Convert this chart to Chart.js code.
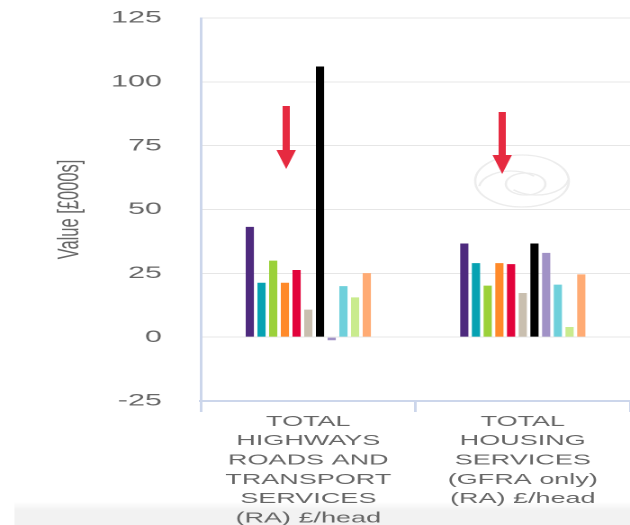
<!DOCTYPE html>
<html>
<head>
<meta charset="utf-8">
<script src="https://cdn.jsdelivr.net/npm/chart.js@4/dist/chart.umd.min.js"></script>
<style>
  html, body { margin: 0; padding: 0; background: #fff; overflow: hidden; width: 630px; height: 525px; }
  /* the chart is laid out narrow and widened horizontally */
  #wrap { width: 350px; height: 525px; transform: scaleX(1.8); transform-origin: 0 0; }
  canvas { display: block; }
</style>
</head>
<body>
<div id="wrap"><canvas id="c" width="350" height="525"></canvas></div>
<script>
// Categories (multi-line axis labels)
const categories = [
  ['TOTAL', 'HIGHWAYS', 'ROADS AND', 'TRANSPORT', 'SERVICES', '(RA) £/head'],
  ['TOTAL', 'HOUSING', 'SERVICES', '(GFRA only)', '(RA) £/head']
];

// One entry per authority series
const seriesNames = [
  'Series 1', 'Series 2', 'Series 3', 'Series 4', 'Series 5', 'Series 6',
  'Series 7', 'Series 8', 'Series 9', 'Series 10', 'Series 11'
];

// Values in £000s, per category
const highwaysValues = [43.2, 21.3, 30.0, 21.3, 26.3, 10.8, 106.0, -1.2, 20.0, 15.6, 25.1];
const housingValues  = [36.7, 29.0, 20.2, 29.0, 28.6, 17.3, 36.7, 33.0, 20.6, 4.0, 24.6];

// Y axis tick range
const yMin = -25;
const yMax = 125;
const yStep = 25;

const seriesColors = [
  '#4e2a7e', '#06a2b2', '#9bd13a', '#ff8a2a', '#e2033b', '#c9bfaf',
  '#000000', '#a192c6', '#6fd0db', '#c9eb8e', '#ffab74'
];

const FONT = "'Liberation Sans', Arial, Helvetica, sans-serif";

// Background strip along the bottom edge and the faint logo mark
const backdrop = {
  id: 'backdrop',
  beforeDraw(chart) {
    const { ctx, width, height } = chart;
    ctx.save();
    const g = ctx.createLinearGradient(0, height - 23, 0, height - 15);
    g.addColorStop(0, 'rgba(242,242,242,0)');
    g.addColorStop(1, '#f2f2f2');
    ctx.fillStyle = g;
    ctx.fillRect(8, height - 23, width - 8, 23);
    ctx.restore();
  },
  beforeDatasetsDraw(chart) {
    const { ctx } = chart;
    const cx = 290, cy = 181, r = 26;
    ctx.save();
    ctx.strokeStyle = '#ececec';
    ctx.lineWidth = 1.3;
    ctx.beginPath();
    ctx.arc(cx, cy, r, 0, Math.PI * 2);
    ctx.stroke();
    ctx.beginPath();
    ctx.arc(cx + 2, cy + 3, 11, 0, Math.PI * 2);
    ctx.stroke();
    ctx.beginPath();
    ctx.arc(cx - 6, cy + 8, 18, Math.PI * 1.05, Math.PI * 1.75);
    ctx.stroke();
    ctx.beginPath();
    ctx.arc(cx + 8, cy - 4, 18, Math.PI * 0.05, Math.PI * 0.75);
    ctx.stroke();
    ctx.restore();
  }
};

// Red pointer arrows above each category
const pointers = {
  id: 'pointers',
  afterDraw(chart, args, opts) {
    const { ctx } = chart;
    ctx.save();
    ctx.fillStyle = opts.color;
    for (const a of opts.items) {
      ctx.fillRect(a.x - 2, a.top, 4, a.headTop - a.top + 1);
      ctx.beginPath();
      ctx.moveTo(a.x - 5.4, a.headTop);
      ctx.lineTo(a.x + 5.4, a.headTop);
      ctx.lineTo(a.x, a.tip);
      ctx.closePath();
      ctx.fill();
    }
    ctx.restore();
  }
};

new Chart(document.getElementById('c'), {
  type: 'bar',
  data: {
    labels: categories,
    datasets: seriesNames.map((name, i) => ({
      label: name,
      data: [highwaysValues[i], housingValues[i]],
      backgroundColor: seriesColors[i],
      borderWidth: 0
    }))
  },
  options: {
    responsive: false,
    animation: false,
    devicePixelRatio: 2,
    layout: { padding: { top: 18, left: 0, right: 0, bottom: 0 } },
    datasets: { bar: { barPercentage: 0.7, categoryPercentage: 0.6 } },
    plugins: {
      legend: { display: false },
      tooltip: { enabled: false },
      pointers: {
        color: '#e62a40',
        items: [
          { x: 159, top: 106, headTop: 150, tip: 169 },
          { x: 279, top: 112, headTop: 155, tip: 174 }
        ]
      }
    },
    scales: {
      x: {
        grid: { drawOnChartArea: false, drawTicks: true, tickLength: 11, color: '#ccd6eb', lineWidth: 1.5, offset: true },
        border: { display: true, color: '#ccd6eb', width: 2 },
        ticks: {
          color: '#666666',
          font: { family: FONT, size: 15, lineHeight: 1.29 },
          padding: 0,
          maxRotation: 0,
          autoSkip: false
        },
        afterFit(scale) {
          scale.height = 124;
          scale.paddingLeft = 0;
          scale.paddingRight = 0;
          scale.paddingTop = 0;
          scale.paddingBottom = 0;
        }
      },
      y: {
        min: yMin,
        max: yMax,
        ticks: { stepSize: yStep, color: '#666666', font: { family: FONT, size: 17 }, padding: 21.7 },
        grid: { color: '#e6e6e6', lineWidth: 1, drawTicks: false },
        border: { display: true, color: '#ccd6eb', width: 1.5 },
        title: {
          display: true,
          text: 'Value [£000s]',
          color: '#666666',
          font: { family: FONT, size: 16.5 },
          padding: { top: 29.3, bottom: 0 }
        },
        afterFit(scale) {
          scale.width = 111.7;
          scale.paddingTop = 0;
          scale.paddingBottom = 0;
          scale.paddingLeft = 0;
          scale.paddingRight = 0;
        }
      }
    }
  },
  plugins: [backdrop, pointers]
});
</script>
</body>
</html>
